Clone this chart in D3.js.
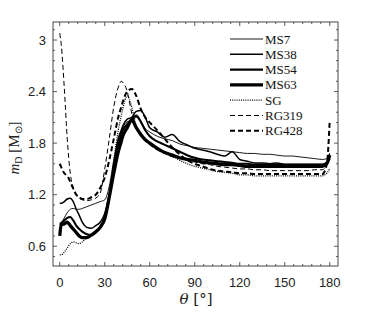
<!DOCTYPE html>
<html>
  <head>
  <title>m_D vs theta</title>
  <script src="https://d3js.org/d3.v7.min.js"></script>
  </head>
  <body>
  <svg id="svg" width="374" height="312"></svg>
  </body>
</html>

<script>
  // sample angles (deg) shared by every series
  const theta = [0, 1, 3, 5, 7, 9, 11, 13, 15, 18, 21, 24, 27, 30, 33, 36, 39, 41, 42, 45, 48, 51, 54, 57, 60,
    65, 70, 75, 80, 85, 90, 95, 100, 105, 110, 115, 120, 125, 130, 135, 140, 145, 150, 155, 160, 165, 170, 175, 178, 180];

  const ms7 = [0.85, 0.87, 0.93, 0.99, 1.03, 1.04, 1.03, 1.03, 1.04, 1.06, 1.08, 1.10, 1.12, 1.14, 1.30, 1.60, 1.85, 1.94, 1.98, 2.05, 2.06, 2.10, 2.05, 1.97, 1.93,
    1.88, 1.85, 1.83, 1.79, 1.77, 1.75, 1.74, 1.73, 1.72, 1.71, 1.70, 1.69, 1.68, 1.68, 1.67, 1.67, 1.66, 1.65, 1.65, 1.64, 1.63, 1.62, 1.61, 1.62, 1.68];
  const ms38 = [1.10, 1.10, 1.12, 1.15, 1.16, 1.12, 1.03, 0.96, 0.88, 0.82, 0.81, 0.84, 0.88, 0.98, 1.20, 1.55, 1.85, 1.95, 2.00, 2.08, 2.10, 2.17, 2.18, 2.10, 1.98,
    1.93, 1.87, 1.90, 1.82, 1.78, 1.74, 1.72, 1.70, 1.67, 1.65, 1.70, 1.61, 1.59, 1.57, 1.57, 1.56, 1.57, 1.55, 1.55, 1.55, 1.55, 1.55, 1.55, 1.58, 1.66];
  const ms54 = [0.86, 0.87, 0.90, 0.93, 0.94, 0.90, 0.84, 0.80, 0.77, 0.74, 0.73, 0.76, 0.82, 0.93, 1.18, 1.50, 1.78, 1.90, 1.95, 2.02, 2.08, 2.12, 2.05, 1.95, 1.88,
    1.82, 1.78, 1.74, 1.70, 1.66, 1.63, 1.61, 1.60, 1.59, 1.58, 1.57, 1.56, 1.56, 1.55, 1.55, 1.55, 1.55, 1.55, 1.55, 1.55, 1.55, 1.55, 1.55, 1.57, 1.62];
  const ms63 = [0.72, 0.85, 0.86, 0.88, 0.84, 0.80, 0.76, 0.72, 0.70, 0.70, 0.73, 0.77, 0.82, 0.92, 1.17, 1.45, 1.70, 1.82, 1.88, 1.98, 2.07, 1.98, 1.90, 1.84, 1.80,
    1.74, 1.69, 1.66, 1.63, 1.61, 1.60, 1.58, 1.57, 1.56, 1.55, 1.55, 1.54, 1.53, 1.53, 1.53, 1.53, 1.53, 1.53, 1.53, 1.53, 1.53, 1.53, 1.53, 1.56, 1.66];
  const sg = [0.50, 0.50, 0.53, 0.58, 0.63, 0.65, 0.64, 0.63, 0.65, 0.70, 0.74, 0.78, 0.83, 0.95, 1.20, 1.60, 1.95, 2.12, 2.20, 2.35, 2.22, 2.00, 1.92, 1.85, 1.80,
    1.74, 1.70, 1.65, 1.60, 1.56, 1.53, 1.51, 1.49, 1.47, 1.46, 1.45, 1.43, 1.43, 1.42, 1.42, 1.42, 1.42, 1.42, 1.42, 1.42, 1.42, 1.42, 1.42, 1.45, 1.50];
  const rg319 = [3.08, 2.95, 2.45, 1.85, 1.45, 1.28, 1.20, 1.16, 1.14, 1.13, 1.14, 1.16, 1.22, 1.50, 1.85, 2.22, 2.45, 2.52, 2.51, 2.40, 2.15, 2.00, 1.90, 1.83, 1.78,
    1.72, 1.68, 1.64, 1.62, 1.60, 1.58, 1.56, 1.55, 1.53, 1.52, 1.51, 1.50, 1.50, 1.49, 1.49, 1.48, 1.48, 1.48, 1.48, 1.48, 1.48, 1.49, 1.49, 1.55, 1.70];
  const rg428 = [1.56, 1.52, 1.45, 1.42, 1.35, 1.27, 1.20, 1.17, 1.15, 1.15, 1.17, 1.20, 1.28, 1.40, 1.60, 1.85, 2.10, 2.22, 2.28, 2.40, 2.43, 2.35, 2.20, 2.10, 2.04,
    1.95, 1.85, 1.75, 1.67, 1.60, 1.56, 1.53, 1.50, 1.48, 1.47, 1.46, 1.45, 1.45, 1.44, 1.44, 1.44, 1.44, 1.44, 1.44, 1.44, 1.44, 1.44, 1.44, 1.55, 2.07];

  const names = ['MS7', 'MS38', 'MS54', 'MS63', 'SG', 'RG319', 'RG428'];
  const values = [ms7, ms38, ms54, ms63, sg, rg319, rg428];
  const widths = [0.9, 1.5, 2.1, 3.3, 1.3, 1, 2];
  const dashes = [null, null, null, null, '1,1.2', '5,3', '5,3'];

  const xMajor = [0, 30, 60, 90, 120, 150, 180];
  const yMajor = [0.6, 1.2, 1.8, 2.4, 3];

  const pL = 53, pR = 338, pT = 22, pB = 266;
  const x = d3.scaleLinear().domain([-4.5, 185.5]).range([pL, pR]);
  const y = d3.scaleLinear().domain([0.37, 3.21]).range([pB, pT]);

  const svg = d3.select('#svg');
  svg.append('rect').attr('width', 374).attr('height', 312).attr('fill', '#fff');

  const defs = svg.append('defs');
  defs.append('clipPath').attr('id', 'clip')
    .append('rect').attr('x', pL).attr('y', pT).attr('width', pR - pL).attr('height', pB - pT);

  // ticks on all four sides, pointing inward
  const xMinor = d3.range(0, 181, 6).filter(v => xMajor.indexOf(v) < 0);
  const yMinor = d3.range(0.48, 3.2, 0.12).filter(v => yMajor.every(m => Math.abs(m - v) > 0.01));
  const axG = svg.append('g').attr('stroke', '#333').attr('stroke-width', 0.8);
  function tickX(list, len) {
    list.forEach(v => {
      axG.append('line').attr('x1', x(v)).attr('x2', x(v)).attr('y1', pB).attr('y2', pB - len);
      axG.append('line').attr('x1', x(v)).attr('x2', x(v)).attr('y1', pT).attr('y2', pT + len);
    });
  }
  function tickY(list, len) {
    list.forEach(v => {
      axG.append('line').attr('y1', y(v)).attr('y2', y(v)).attr('x1', pL).attr('x2', pL + len);
      axG.append('line').attr('y1', y(v)).attr('y2', y(v)).attr('x1', pR).attr('x2', pR - len);
    });
  }
  tickX(xMajor, 4); tickX(xMinor, 2);
  tickY(yMajor, 4); tickY(yMinor, 2);

  svg.append('g').selectAll('text').data(xMajor).join('text')
    .attr('x', d => x(d)).attr('y', 287)
    .attr('text-anchor', 'middle')
    .style('font', '13px "Liberation Sans", Arial, sans-serif').attr('fill', '#222')
    .text(d => d);
  svg.append('g').selectAll('text').data(yMajor).join('text')
    .attr('x', 46).attr('y', d => y(d) + 4.5)
    .attr('text-anchor', 'end')
    .style('font', '13px "Liberation Sans", Arial, sans-serif').attr('fill', '#222')
    .text(d => d);

  // axis labels
  const xl = svg.append('text').attr('x', 196).attr('y', 304).attr('text-anchor', 'middle')
    .style('font', '15px "DejaVu Serif", "Liberation Serif", serif').attr('fill', '#222');
  xl.append('tspan').style('font-style', 'italic').text('θ');
  xl.append('tspan').text(' [°]');

  const yl = svg.append('text').attr('transform', 'translate(19,148) rotate(-90)').attr('text-anchor', 'middle')
    .style('font', '15px "Liberation Serif", serif').attr('fill', '#222');
  yl.append('tspan').style('font-style', 'italic').text('m');
  yl.append('tspan').attr('font-size', 10).attr('dy', 3).text('D');
  yl.append('tspan').attr('dy', -3).text(' [M');
  yl.append('tspan').attr('font-size', 10).attr('dy', 3).text('⊙');
  yl.append('tspan').attr('dy', -3).text(']');

  // curves
  const line = d3.line()
    .x((d, i) => x(theta[i]))
    .y(d => y(d))
    .curve(d3.curveMonotoneX);

  svg.append('g').attr('clip-path', 'url(#clip)')
    .selectAll('path').data(values).join('path')
    .attr('d', d => line(d))
    .attr('fill', 'none')
    .attr('stroke', '#000')
    .attr('stroke-width', (d, i) => widths[i])
    .attr('stroke-dasharray', (d, i) => dashes[i])
    .attr('stroke-linejoin', 'round');

  // frame
  svg.append('rect').attr('x', pL).attr('y', pT).attr('width', pR - pL).attr('height', pB - pT)
    .attr('fill', 'none').attr('stroke', '#333').attr('stroke-width', 0.9);

  // legend
  const leg = svg.append('g').selectAll('g').data(names).join('g')
    .attr('transform', (d, i) => `translate(230,${39 + i * 15.3})`);
  leg.append('line').attr('x1', 0).attr('x2', 33).attr('y1', 0).attr('y2', 0)
    .attr('stroke', '#000')
    .attr('stroke-width', (d, i) => widths[i])
    .attr('stroke-dasharray', (d, i) => dashes[i]);
  leg.append('text').attr('x', 35).attr('y', 4.5)
    .style('font', '13px "Liberation Serif", serif').attr('fill', '#111')
    .text(d => d);
</script>

<style>
  body { margin: 0; }
</style>
